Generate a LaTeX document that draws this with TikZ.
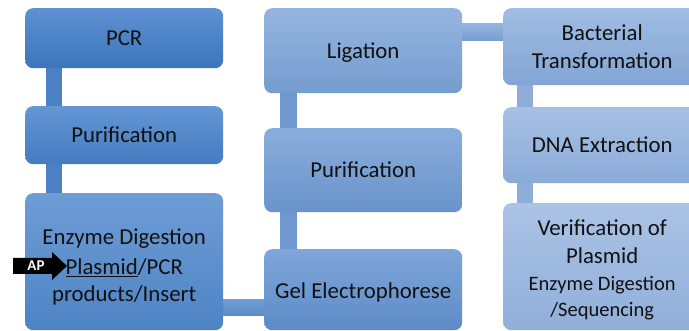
\documentclass[tikz,border=0pt]{standalone}
\usepackage{fontspec}
\setmainfont{Carlito}
\usetikzlibrary{calc,backgrounds}
\definecolor{tA}{HTML}{5D91D2}\definecolor{bA}{HTML}{3D75BB}
\definecolor{tB}{HTML}{6396D3}\definecolor{bB}{HTML}{457CC0}
\definecolor{tC}{HTML}{6E9DD6}\definecolor{bC}{HTML}{4E83C4}
\definecolor{tD}{HTML}{7FA6D9}\definecolor{bD}{HTML}{5D8BC8}
\definecolor{tE}{HTML}{8AAEDC}\definecolor{bE}{HTML}{6A93CB}
\definecolor{tF}{HTML}{95B5DF}\definecolor{bF}{HTML}{759CCF}
\definecolor{tG}{HTML}{A0BDE2}\definecolor{bG}{HTML}{82A5D4}
\definecolor{tH}{HTML}{A7C1E4}\definecolor{bH}{HTML}{8AABD8}
\definecolor{tI}{HTML}{ABC3E5}\definecolor{bI}{HTML}{90AFDA}
\definecolor{cA}{HTML}{4C82C5}
\definecolor{cB}{HTML}{6E98CF}
\definecolor{cC}{HTML}{8EADD9}
\definecolor{txt}{HTML}{111111}
\tikzset{
  stepbox/.style={rounded corners=8pt, minimum width=198pt, inner sep=0pt,
    align=center, font=\fontsize{22.8}{27.5}\selectfont, text=txt, anchor=north west},
}
\begin{document}
\begin{tikzpicture}[x=1pt,y=-1pt]
\useasboundingbox (0,0) rectangle (689,331);
\clip (0,0) rectangle (689,331);
% boxes
\node[stepbox, minimum height=60pt, top color=tA, bottom color=bA] (pcr) at (25,8) {PCR};
\node[stepbox, minimum height=58pt, top color=tB, bottom color=bB] (pur1) at (25,106) {Purification};
\node[stepbox, minimum height=137pt, top color=tC, bottom color=bC] (enz) at (25,193) {};
\node[stepbox, minimum height=81pt, top color=tD, bottom color=bD] (gel) at (264,249) {};
\node[stepbox, minimum height=84pt, top color=tE, bottom color=bE] (pur2) at (264,128) {Purification};
\node[stepbox, minimum height=85pt, top color=tF, bottom color=bF] (lig) at (264,8) {};
\node[stepbox, minimum height=77pt, top color=tG, bottom color=bG] (bac) at (503,8) {Bacterial\\Transformation};
\node[stepbox, minimum height=127pt, top color=tI, bottom color=bI] (ver) at (503,203) {};
\node[stepbox, minimum height=76pt, top color=tH, bottom color=bH] (dna) at (503,107) {DNA Extraction};
% texts
\node[font=\fontsize{22.8}{28}\selectfont, text=txt] (ligt) at ($(lig.center)+(0,2)$) {Ligation};
\node[font=\fontsize{22.8}{28}\selectfont, text=txt] (gelt) at ($(gel.center)+(0,3)$) {Gel Electrophorese};
\node[font=\fontsize{22.8}{28}\selectfont, text=txt, align=center] (vert) at ($(ver.center)+(0,3)$) {Verification of\\Plasmid\\[-1pt]{\fontsize{20.5}{26}\selectfont Enzyme Digestion}\\[-2pt]{\fontsize{20.5}{26}\selectfont /Sequencing}};
\node[font=\fontsize{22.8}{29}\selectfont, text=txt, align=center] (enzt) at ($(enz.center)+(0,5)$) {Enzyme Digestion\\[1pt]\underline{Plasmid}/PCR\\[-2pt]products/Insert};
% connectors (behind)
\begin{scope}[on background layer]
\fill[cA] ($(pcr.south west)+(21,-2)$) rectangle ($(enz.north west)+(37,2)$);
\fill[cB] ($(lig.south west)+(16,-2)$) rectangle ($(gel.north west)+(33,2)$);
\fill[cC] ($(bac.south west)+(14,-2)$) rectangle ($(dna.north west)+(30,2)$);
\fill[cC] ($(dna.south west)+(14,-2)$) rectangle ($(ver.north west)+(30,2)$);
\path[top color=tF, bottom color=bF] ($(lig.north east)+(-2,16)$) rectangle ($(bac.north west)+(2,33)$);
\path[top color=tC, bottom color=bD] ($(enz.north east)+(-2,107)$) rectangle ($(gel.north west)+(2,67)$);
\end{scope}
% AP arrow
\coordinate (aptip) at (67,266);
\fill[black] ($(aptip)+(-54,-8)$) -- ($(aptip)+(-15,-8)$) -- ($(aptip)+(-15,-14)$) -- (aptip)
  -- ($(aptip)+(-15,14)$) -- ($(aptip)+(-15,8)$) -- ($(aptip)+(-54,8)$) -- cycle;
\node[text=white, font=\fontsize{15}{15}\bfseries, inner sep=0pt] (ap) at ($(aptip)+(-31,0)$) {AP};
\end{tikzpicture}
\end{document}
